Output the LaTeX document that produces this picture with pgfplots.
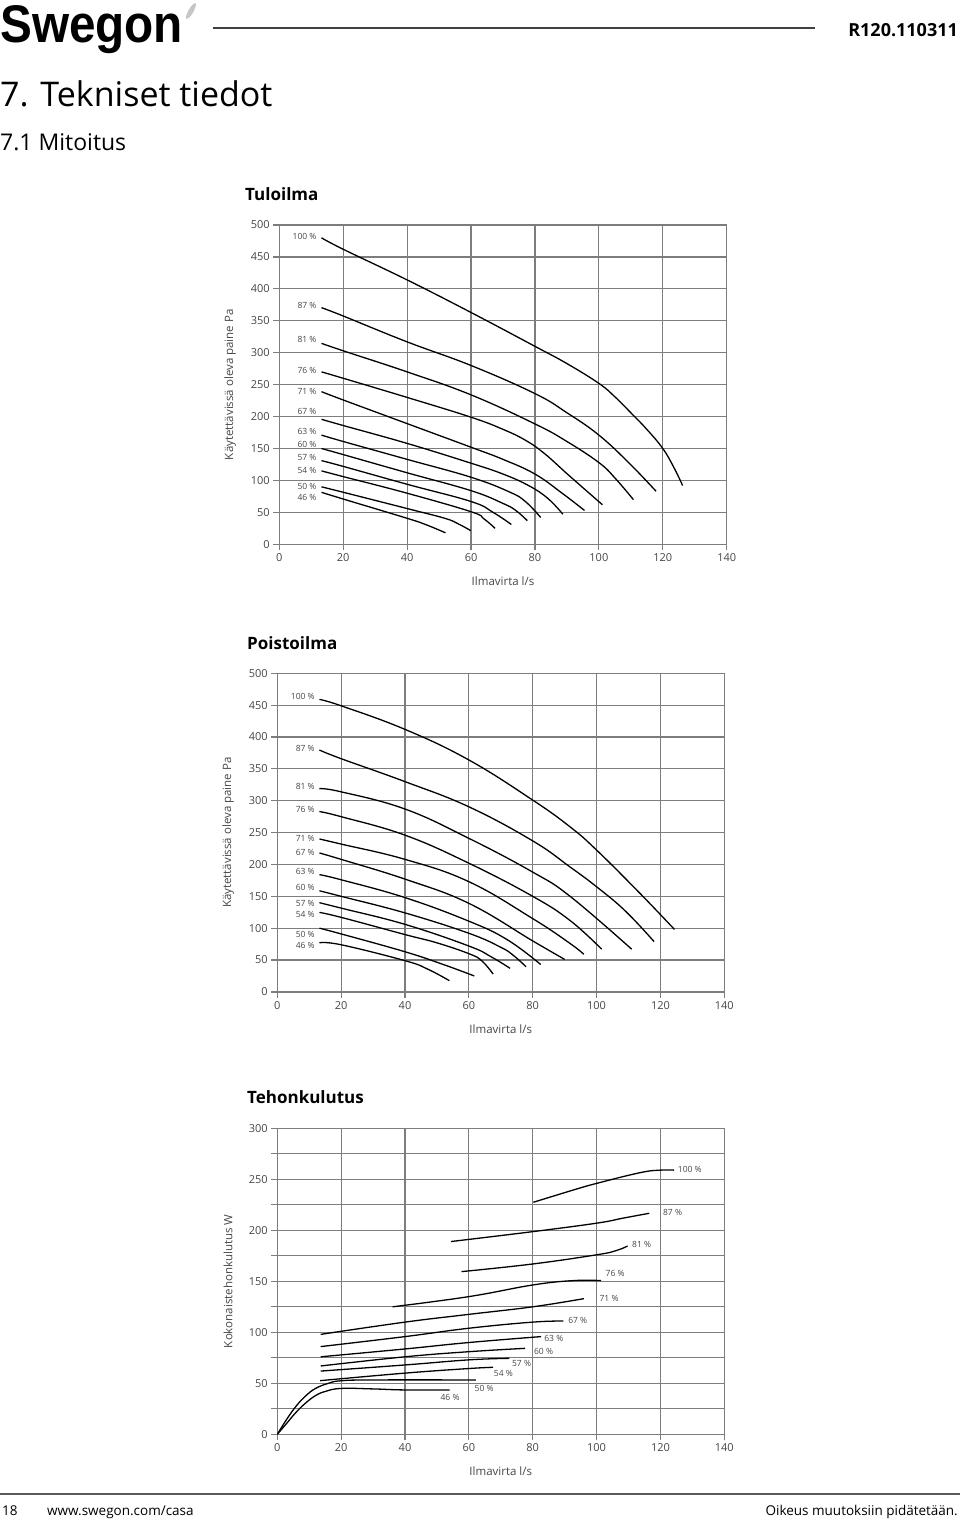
\documentclass[border=0pt]{standalone}
\usepackage{fontspec}
\setmainfont{Open Sans}
\newfontfamily\logofont[FakeStretch=0.9]{Liberation Sans}
\usepackage{pgfplots}
\pgfplotsset{compat=1.18}

\definecolor{gridgray}{RGB}{125,125,125}
\definecolor{txtgray}{RGB}{70,70,70}

\tikzset{pct/.style={font=\fontsize{8.5}{9}\selectfont, text=txtgray, inner sep=1pt}}

\pgfplotsset{
  swe/.style={
    scale only axis, anchor=south west,
    xmin=0, xmax=140, xtick={0,20,...,140},
    grid=major,
    grid style={gridgray, line width=1.2pt},
    axis line style={gridgray, line width=1.2pt},
    tick style={gridgray, line width=1.2pt},
    tick align=outside, tick pos=left, major tick length=6pt,
    tick label style={font=\fontsize{11}{13}\selectfont, text=txtgray},
    /pgf/number format/assume math mode=true,
    xlabel=Ilmavirta l/s,
    xlabel style={at={(axis description cs:0.5,0)}, anchor=center, yshift=-37pt,
      font=\fontsize{11.5}{13}\selectfont, text=txtgray},
    ylabel style={at={(axis description cs:-0.11,0.5)}, anchor=center,
      font=\fontsize{11.5}{13}\selectfont, text=txtgray},
    cycle list={black,solid,smooth,tension=0.7,mark=none,line width=1.3pt\\},
  },
}

\begin{document}
\begin{tikzpicture}
\useasboundingbox (0pt,0pt) rectangle (960pt,-1522pt);

% header
\node[anchor=base west, inner sep=0pt, font=\logofont\bfseries\fontsize{53}{53}\selectfont] at (0pt,-43pt) {Swegon};
\fill[gray!45, rotate around={-30:(191pt,-11pt)}] (191pt,-11pt) ellipse (2.5pt and 9pt);
\draw[black!75, line width=1.6pt] (213pt,-28pt) -- (815pt,-28pt);
\node[anchor=base east, inner sep=0pt, font=\bfseries\fontsize{18}{18}\selectfont] at (958pt,-36.5pt) {R120.110311};
\node[anchor=base west, inner sep=0pt, font=\fontsize{34}{34}\selectfont] at (0pt,-107pt) {7. Tekniset tiedot};
\node[anchor=base west, inner sep=0pt, font=\fontsize{23}{23}\selectfont] at (0pt,-151pt) {7.1 Mitoitus};

% chart titles
\node[anchor=base west, inner sep=0pt, font=\bfseries\fontsize{17}{17}\selectfont] at (245pt,-201pt) {Tuloilma};
\node[anchor=base west, inner sep=0pt, font=\bfseries\fontsize{17}{17}\selectfont] at (247pt,-649pt) {Poistoilma};
\node[anchor=base west, inner sep=0pt, font=\bfseries\fontsize{17}{17}\selectfont] at (247pt,-1103pt) {Tehonkulutus};

% ---------------- Tuloilma
\begin{axis}[swe, at={(279.3pt,-544.3pt)}, width=447.4pt, height=319.3pt,
  ymin=0, ymax=500, ytick={0,50,...,500},
  ylabel={Käytettävissä oleva paine Pa}]
\addplot coordinates {(13.2,480)(20,462)(40,414)(60,363)(80,310)(90,283)(100,252)(105,231)(110,206)(115,180)(120,150)(123.5,120)(126.2,92)};
\addplot coordinates {(13.2,370.6)(20,357.5)(40,317)(60,280)(80,236)(90,206)(100,171)(109.6,126.5)(117.9,83)};
\addplot coordinates {(13.2,314.7)(20,303)(40,270)(60,234)(80,188.5)(90,161)(100,128)(105,104)(110.8,70)};
\addplot coordinates {(13.2,270)(20,260)(40,230)(60,199)(70,180)(77,163)(83,142)(90.6,108)(101.1,62)};
\addplot coordinates {(13.2,239)(20,226)(40,189)(60,152)(70,133)(80,110)(88.5,80)(95.5,53)};
\addplot coordinates {(13.2,195.7)(20,186)(40,158)(60,127)(70,110)(78,92)(84,72)(88.75,47)};
\addplot coordinates {(13.2,171)(20,161)(40,133)(60,105)(72,82)(77,67)(81.8,42)};
\addplot coordinates {(13.2,150)(20,140.5)(40,112)(60,84)(70,64)(74,53)(77.6,37)};
\addplot coordinates {(13.2,131)(20,122)(40,94)(60,67)(66.9,50)(72.6,31)};
\addplot coordinates {(13.2,115)(20,106)(40,80)(60,51)(64,40)(67.5,25)};
\addplot coordinates {(13.2,90)(20,81.5)(40,56)(51.8,40.7)(56,32)(59.9,21.4)};
\addplot coordinates {(13.2,81.4)(20,70.9)(40,40.7)(46,30.5)(52,18)};
\node[pct, anchor=east] at (axis cs:12,482.8) {100 \%};
\node[pct, anchor=east] at (axis cs:12,374.7) {87 \%};
\node[pct, anchor=east] at (axis cs:12,320) {81 \%};
\node[pct, anchor=east] at (axis cs:12,273) {76 \%};
\node[pct, anchor=east] at (axis cs:12,240) {71 \%};
\node[pct, anchor=east] at (axis cs:12,207.7) {67 \%};
\node[pct, anchor=east] at (axis cs:12,177) {63 \%};
\node[pct, anchor=east] at (axis cs:12,157) {60 \%};
\node[pct, anchor=east] at (axis cs:12,136.7) {57 \%};
\node[pct, anchor=east] at (axis cs:12,115.9) {54 \%};
\node[pct, anchor=east] at (axis cs:12,90.3) {50 \%};
\node[pct, anchor=east] at (axis cs:12,73.6) {46 \%};
\end{axis}

% ---------------- Poistoilma
\begin{axis}[swe, at={(277.3pt,-991.9pt)}, width=447pt, height=318.6pt,
  ymin=0, ymax=500, ytick={0,50,...,500},
  ylabel={Käytettävissä oleva paine Pa}]
\addplot coordinates {(13.2,459)(20,449)(40,412)(60,364)(80,301)(91.7,259)(100,222.6)(113.6,154.6)(124.4,98)};
\addplot coordinates {(13.2,379.6)(20,366)(40,330)(60,290.5)(80,237)(91.7,196)(100,165)(109,127)(118,79)};
\addplot coordinates {(13.2,319)(20,314)(40,287)(60,241)(80,188)(91.7,150)(111,67)};
\addplot coordinates {(13.2,283)(20,275)(40,246)(60,202)(80,150)(91.7,112)(101.6,67)};
\addplot coordinates {(13.2,240)(20,232)(40,208)(60,173)(80,115)(91.7,76)(96,59)};
\addplot coordinates {(13.2,218)(20,208)(40,177)(60,139)(80,80)(90,51)};
\addplot coordinates {(13.2,184)(20,176)(40,148)(60,111)(72,82)(82.5,43)};
\addplot coordinates {(13.2,158.7)(20,150)(40,124)(60,92)(70,70)(74,57)(77.9,39.5)};
\addplot coordinates {(13.2,140)(20,131.5)(40,106)(60,72)(67,55)(72.9,37)};
\addplot coordinates {(13.2,124.7)(20,117)(40,90)(50,77)(60,60)(64,49)(67.6,28)};
\addplot coordinates {(13.2,100)(20,91)(40,63)(52,43)(61.7,25)};
\addplot coordinates {(13.2,77)(20,74)(40,49)(47,36)(53.9,17.6)};
\node[pct, anchor=east] at (axis cs:12.1,464) {100 \%};
\node[pct, anchor=east] at (axis cs:12.1,382) {87 \%};
\node[pct, anchor=east] at (axis cs:12.1,323) {81 \%};
\node[pct, anchor=east] at (axis cs:12.1,287) {76 \%};
\node[pct, anchor=east] at (axis cs:12.1,241) {71 \%};
\node[pct, anchor=east] at (axis cs:12.1,219) {67 \%};
\node[pct, anchor=east] at (axis cs:12.1,188.6) {63 \%};
\node[pct, anchor=east] at (axis cs:12.1,163.4) {60 \%};
\node[pct, anchor=east] at (axis cs:12.1,138.9) {57 \%};
\node[pct, anchor=east] at (axis cs:12.1,121.6) {54 \%};
\node[pct, anchor=east] at (axis cs:12.1,90.8) {50 \%};
\node[pct, anchor=east] at (axis cs:12.1,73) {46 \%};
\end{axis}

% ---------------- Tehonkulutus
\begin{axis}[swe, at={(277.3pt,-1434.3pt)}, width=447pt, height=306pt,
  ymin=0, ymax=300, ytick={0,50,...,300},
  minor ytick={25,75,...,275}, grid=both,
  minor grid style={gridgray, line width=1.2pt},
  minor tick length=6pt,
  ylabel={Kokonaistehonkulutus W}]
\addplot coordinates {(80.2,227.5)(92.7,239.5)(100,246)(113.6,256.5)(120,259)(124.3,259)};
\addplot coordinates {(54.4,189)(80,198.7)(100,207)(108.4,212)(116.5,216.7)};
\addplot coordinates {(57.7,159.5)(80,167)(100,176)(106,180)(109.7,184.6)};
\addplot coordinates {(36.1,125)(60,135)(80,146.4)(92.7,150.7)(101.4,150.7)};
\addplot coordinates {(13.6,98)(40,110)(60,117.6)(80,125)(96,133)};
\addplot coordinates {(13.6,86)(40,95.8)(60,104)(80,110)(89.6,111)};
\addplot coordinates {(13.6,76)(40,83.7)(60,90)(82.6,95.8)};
\addplot coordinates {(13.6,67)(40,76)(60,81)(77.6,84.3)};
\addplot coordinates {(13.6,62)(40,68)(60,73)(72.7,74.5)};
\addplot coordinates {(13.4,52.6)(40,60)(60,64.5)(67.6,65.7)};
\addplot coordinates {(0,0)(3,15)(6,28)(9,38)(12,45)(16,50)(20,52.5)(30,53.3)(62.2,53.3)};
\addplot coordinates {(0,0)(3,11)(6,22)(9,31)(12,38)(15,42)(20,45)(30,44.5)(40,43.5)(54,43.5)};
\node[pct] at (axis cs:129.2,259.8) {100 \%};
\node[pct] at (axis cs:123.8,217.3) {87 \%};
\node[pct] at (axis cs:114.1,186) {81 \%};
\node[pct] at (axis cs:105.8,157.8) {76 \%};
\node[pct] at (axis cs:103.9,133) {71 \%};
\node[pct] at (axis cs:94.1,111.4) {67 \%};
\node[pct] at (axis cs:86.6,93.7) {63 \%};
\node[pct] at (axis cs:83.4,81.7) {60 \%};
\node[pct] at (axis cs:76.5,69.2) {57 \%};
\node[pct] at (axis cs:70.8,59.4) {54 \%};
\node[pct] at (axis cs:64.8,45.1) {50 \%};
\node[pct] at (axis cs:54.1,36.3) {46 \%};
\end{axis}

% footer
\draw[black!65, line width=2.5pt] (0pt,-1494pt) -- (960pt,-1494pt);
\node[anchor=base west, inner sep=0pt, font=\fontsize{13.5}{14}\selectfont] at (2pt,-1515pt) {18};
\node[anchor=base west, inner sep=0pt, font=\fontsize{13.5}{14}\selectfont] at (47pt,-1515pt) {www.swegon.com/casa};
\node[anchor=base east, inner sep=0pt, font=\fontsize{13.5}{14}\selectfont] at (958pt,-1515pt) {Oikeus muutoksiin pidätetään.};
\end{tikzpicture}
\end{document}
